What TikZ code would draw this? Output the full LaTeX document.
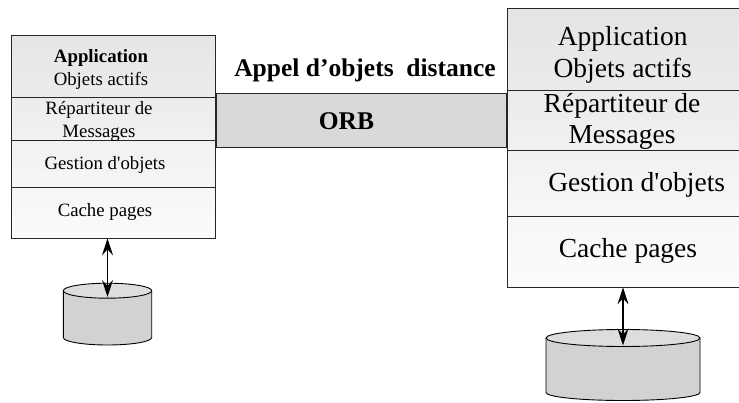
\documentclass[tikz,border=0pt]{standalone}
\usepackage{fontspec}
\setmainfont{Liberation Serif}
\usetikzlibrary{positioning,arrows.meta}

\begin{document}
\begin{tikzpicture}[x=1pt, y=-1pt,
    layer/.style 2 args={draw=black!85, line width=0.9pt, rectangle, inner sep=0pt, outer sep=0pt,
        top color=gray!#1, bottom color=gray!#2},
    disk/.style={draw=black, line width=0.9pt, fill=gray!35},
    disktop/.style={draw=black, line width=0.9pt, fill=gray!27},
    link/.style={{Stealth[length=17pt,width=11pt,inset=6pt]}-{Stealth[length=17pt,width=11pt,inset=6pt]}, line width=1.2pt},
    small/.style={font=\fontsize{18.8pt}{22.3pt}\selectfont, inner sep=0pt, align=center},
    big/.style={font=\fontsize{27.5pt}{31pt}\selectfont, inner sep=0pt, align=center},
    title/.style={font=\fontsize{25.5pt}{30pt}\selectfont\bfseries, inner sep=0pt}]
    \useasboundingbox (0,0) rectangle (739,403);

    % site gauche
    \node[layer={20}{15}, minimum width=204pt, minimum height=62.3pt] (appL) at (113,66.2) {};
    \node[layer={15}{11}, minimum width=204pt, minimum height=42.7pt, below=0pt of appL] (repL) {};
    \node[layer={11}{7}, minimum width=204pt, minimum height=47.3pt, below=0pt of repL] (gesL) {};
    \node[layer={7}{3}, minimum width=204pt, minimum height=51pt, below=0pt of gesL] (cacL) {};
    \node[small] (tAppL) at (101,69.5) {\textbf{Application}\\Objets actifs};
    \node[small] (tRepL) at (99,121.5) {Répartiteur de\\Messages};
    \node[small, anchor=base] (tGesL) at (105,169.3) {Gestion d\textquotesingle objets};
    \node[small, anchor=base] (tCacL) at (105,216.7) {Cache pages};

    % site droit
    \node[layer={21}{16}, minimum width=242pt, minimum height=81.7pt] (appR) at (628,49.2) {};
    \node[layer={16}{11}, minimum width=242pt, minimum height=60pt, below=0pt of appR] (repR) {};
    \node[layer={11}{6}, minimum width=242pt, minimum height=66pt, below=0pt of repR] (gesR) {};
    \node[layer={6}{3}, minimum width=242pt, minimum height=71.3pt, below=0pt of gesR] (cacR) {};
    \node[big] (tAppR) at (622.7,54.6) {Application\\[1pt]Objets actifs};
    \node[big] (tRepR) at (622,121.6) {Répartiteur de\\Messages};
    \node[big, anchor=base] (tGesR) at (636.7,192) {Gestion d\textquotesingle objets};
    \node[big, anchor=base] (tCacR) at (628,258) {Cache pages};

    % bus
    \node[draw=black!85, line width=0.9pt, fill=gray!30, minimum width=290.7pt, minimum height=54pt,
        outer sep=0pt] (orb) at (361.3,120.3) {};
    \node[title, anchor=base] (tOrb) at (346.5,130) {ORB};
    \node[title, anchor=base] (tAppel) at (365,76.7) {Appel d’objets\ \ distance};

    % disques
    \draw[disk] (63.3,290.7) -- (63.3,337.5)
        arc[start angle=180, end angle=360, x radius=44.2pt, y radius=7.5pt] -- (151.7,290.7);
    \draw[disktop] (107.5,290.7) ellipse[x radius=44.2pt, y radius=7.5pt];
    \coordinate (dbL) at (107.5,297);
    \draw[disk] (546,338) -- (546,392.5)
        arc[start angle=180, end angle=360, x radius=77pt, y radius=8pt] -- (700,338);
    \draw[disktop] (623,338) ellipse[x radius=77pt, y radius=8.5pt];
    \coordinate (dbR) at (623,345.5);

    \draw[link] (dbL |- cacL.south) -- (dbL);
    \draw[link] (dbR |- cacR.south) -- (dbR);
\end{tikzpicture}
\end{document}
